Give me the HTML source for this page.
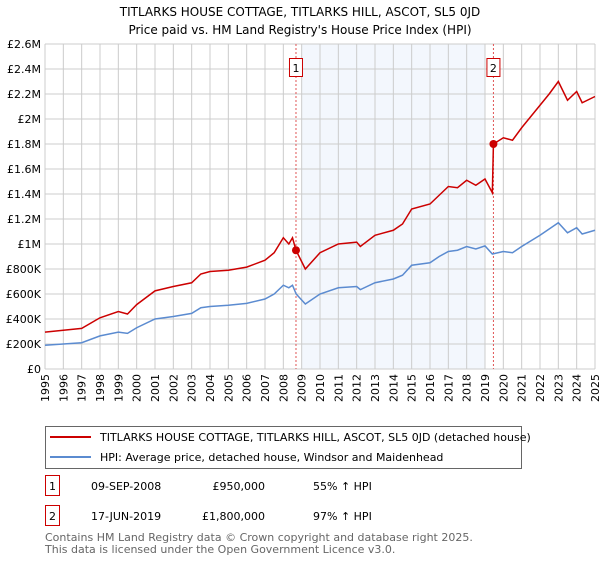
<!DOCTYPE html>
<html><head><meta charset="utf-8"><style>
body{margin:0;background:#fff;font-family:"DejaVu Sans","Liberation Sans",sans-serif;}
svg text{font-family:"DejaVu Sans","Liberation Sans",sans-serif;}
</style></head><body>
<svg id="c" width="600" height="560" xmlns="http://www.w3.org/2000/svg">
<text x="300" y="16" text-anchor="middle" font-size="12">TITLARKS HOUSE COTTAGE, TITLARKS HILL, ASCOT, SL5 0JD</text>
<text x="300" y="34" text-anchor="middle" font-size="12">Price paid vs. HM Land Registry's House Price Index (HPI)</text>
<g id="plot"></g>
<g>
<rect x="45.5" y="426.5" width="476" height="42" fill="#fff" stroke="#666"/>
<line x1="50" y1="437" x2="91" y2="437" stroke="#cc0000" stroke-width="2"/>
<text x="100" y="441" font-size="11">TITLARKS HOUSE COTTAGE, TITLARKS HILL, ASCOT, SL5 0JD (detached house)</text>
<line x1="50" y1="457" x2="91" y2="457" stroke="#5b8bd0" stroke-width="2"/>
<text x="100" y="461" font-size="11">HPI: Average price, detached house, Windsor and Maidenhead</text>
</g>
<g>
<rect x="45.5" y="475.5" width="14" height="20" fill="none" stroke="#cc0000"/>
<text x="52.5" y="490" text-anchor="middle" font-size="11">1</text>
<text x="91" y="490" font-size="11">09-SEP-2008</text>
<text x="265" y="490" text-anchor="end" font-size="11">£950,000</text>
<text x="313" y="490" font-size="11">55% ↑ HPI</text>
</g>
<g>
<rect x="45.5" y="505.5" width="14" height="20" fill="none" stroke="#cc0000"/>
<text x="52.5" y="520" text-anchor="middle" font-size="11">2</text>
<text x="91" y="520" font-size="11">17-JUN-2019</text>
<text x="265" y="520" text-anchor="end" font-size="11">£1,800,000</text>
<text x="313" y="520" font-size="11">97% ↑ HPI</text>
</g>
<text x="45" y="541" font-size="11" fill="#666">Contains HM Land Registry data © Crown copyright and database right 2025.</text>
<text x="45" y="553" font-size="11" fill="#666">This data is licensed under the Open Government Licence v3.0.</text>
</svg>
<script>
const hpiYears=[1995,1996,1997,1998,1999,1999.5,2000,2001,2002,2003,2003.5,2004,2005,2006,2007,2007.5,2008,2008.3,2008.5,2008.7,2009.2,2010,2011,2012,2012.2,2013,2014,2014.5,2015,2016,2016.5,2017,2017.5,2018,2018.5,2019,2019.4,2020,2020.5,2021,2022,2022.5,2023,2023.5,2024,2024.3,2025];
const hpiValues=[190,200,210,265,295,285,330,400,420,445,490,500,510,525,560,600,670,650,670,600,520,600,650,660,635,690,720,750,830,850,900,940,950,980,960,985,920,940,930,980,1070,1120,1170,1090,1130,1080,1110];
const redYears=[1995,1996,1997,1998,1999,1999.5,2000,2001,2002,2003,2003.5,2004,2005,2006,2007,2007.5,2008,2008.3,2008.5,2008.69,2009.2,2010,2011,2012,2012.2,2013,2014,2014.5,2015,2016,2016.5,2017,2017.5,2018,2018.5,2019,2019.4,2019.46,2020,2020.5,2021,2022,2022.5,2023,2023.5,2024,2024.3,2025];
const redValues=[295,310,325,410,460,440,515,625,660,690,760,780,790,815,870,930,1050,1000,1050,950,800,930,1000,1015,980,1070,1110,1160,1280,1320,1390,1460,1450,1510,1470,1520,1410,1800,1850,1830,1930,2110,2200,2300,2150,2220,2130,2180];
const yTicks=[0,200,400,600,800,1000,1200,1400,1600,1800,2000,2200,2400,2600];
const yLabels=["£0","£200K","£400K","£600K","£800K","£1M","£1.2M","£1.4M","£1.6M","£1.8M","£2M","£2.2M","£2.4M","£2.6M"];
const xTicks=[1995,1996,1997,1998,1999,2000,2001,2002,2003,2004,2005,2006,2007,2008,2009,2010,2011,2012,2013,2014,2015,2016,2017,2018,2019,2020,2021,2022,2023,2024,2025];
const saleYears=[2008.69,2019.46];
const saleValues=[950,1800];
const saleLabels=["1","2"];
const shade=[2009,2019];
const X0=45,X1=595,Y0=369,Y1=44;
const x=v=>X0+(v-1995)/30*(X1-X0);
const y=v=>Y0-v/2600*(Y0-Y1);
const NS="http://www.w3.org/2000/svg";
const g=document.getElementById('plot');
function mk(t,a){const e=document.createElementNS(NS,t);for(const k in a)e.setAttribute(k,a[k]);g.appendChild(e);return e;}
let e=mk('rect',{x:X0,y:Y1,width:X1-X0,height:Y0-Y1,fill:'#fff'});


e=mk('rect',{x:x(shade[0]),y:Y1,width:x(shade[1])-x(shade[0]),height:Y0-Y1,fill:'#eef3fc',opacity:0.7});


xTicks.forEach(t=>{
 const l=mk('line',{x1:x(t),x2:x(t),y1:Y1,y2:Y0,stroke:'#ccc'});
 
 
 const tx=mk('text',{x:0,y:0,'font-size':11,'text-anchor':'end',transform:`translate(${x(t)+4},${Y0+5}) rotate(-90)`});
 tx.textContent=t;
 
 
});
yTicks.forEach((t,i)=>{
 const l=mk('line',{x1:X0,x2:X1,y1:y(t),y2:y(t),stroke:'#ccc'});
 
 
 const tx=mk('text',{x:X0-4,y:y(t)+4,'font-size':11,'text-anchor':'end'});
 tx.textContent=yLabels[i];
 
 
});
saleYears.forEach((s,i)=>{
 const l=mk('line',{x1:x(s),x2:x(s),y1:Y1,y2:Y0,stroke:'#e05555','stroke-dasharray':'2,2'});
 
 
 const r=mk('rect',{x:x(s)-6.5,y:58.5,width:13,height:18,fill:'#fff',stroke:'#cc0000'});
 
 
 const tx=mk('text',{x:x(s),y:72,'font-size':11,'text-anchor':'middle'});
 tx.textContent=saleLabels[i];
 
 
});
e=mk('polyline',{points:hpiYears.map((t,i)=>x(t)+','+y(hpiValues[i])).join(' '),fill:'none',stroke:'#5b8bd0','stroke-width':1.5});


e=mk('polyline',{points:redYears.map((t,i)=>x(t)+','+y(redValues[i])).join(' '),fill:'none',stroke:'#cc0000','stroke-width':1.5});


saleYears.forEach((s,i)=>{
 const c=mk('circle',{cx:x(s),cy:y(saleValues[i]),r:4,fill:'#cc0000'});
 
 
});
</script>
</body></html>
